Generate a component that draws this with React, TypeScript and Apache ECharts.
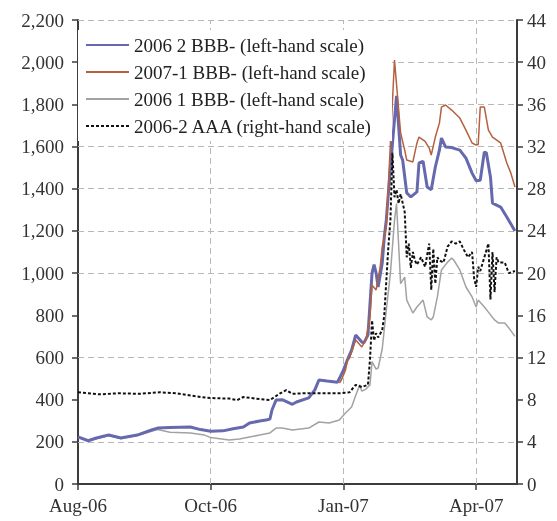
import React, { useEffect, useRef } from 'react';
import * as echarts from 'echarts';

// x values are business-day indices from the start of Aug-06 (one tick interval = 65 days)
const X_TICK_DAYS = [0, 65, 130, 195];
const X_TICK_LABELS = ['Aug-06', 'Oct-06', 'Jan-07', 'Apr-07'];
const H_GRID_VALUES = [200, 600, 1000, 1200, 1400, 1600, 1800, 2000, 2200];
const V_GRID_DAYS = [65, 130, 195];

const NAME_BLUE = '2006 2 BBB- (left-hand scale)';
const NAME_RED = '2007-1 BBB- (left-hand scale)';
const NAME_GREY = '2006 1 BBB- (left-hand scale)';
const NAME_AAA = '2006-2 AAA (right-hand scale)';

const BLUE_2006_2_BBB: [number, number][] = [
  [0, 223], [5, 205], [9, 218], [15, 232], [21, 218], [29, 232], [36, 256], [39, 265],
  [45, 268], [55, 270], [60, 258], [65, 250], [71, 252], [76, 262], [81, 270], [84, 289],
  [89, 299], [92, 303], [94, 308], [95, 351], [97, 398], [100, 400], [105, 378], [107, 389],
  [113, 408], [116, 446], [118, 493], [122, 488], [127, 482], [128, 500], [130, 540],
  [132, 590], [134, 635], [136, 706], [139, 673], [140, 669], [142, 706], [144, 1000],
  [145, 1040], [146, 1000], [147, 934], [149, 1048], [150, 1171], [151, 1252], [153, 1500],
  [156, 1840], [158, 1560], [159, 1536], [161, 1380], [163, 1361], [166, 1385], [167, 1522],
  [169, 1530], [171, 1408], [173, 1395], [175, 1503], [177, 1583], [178, 1640], [180, 1598],
  [183, 1595], [187, 1583], [190, 1545], [193, 1474], [195, 1438], [197, 1440], [199, 1574],
  [200, 1570], [202, 1456], [203, 1332], [207, 1313], [210, 1266], [214, 1200],
];

const RED_2007_1_BBB: [number, number][] = [
  [128, 479], [129, 493], [131, 540], [132, 588], [133, 597], [134, 626], [136, 683],
  [139, 650], [141, 683], [143, 792], [144, 943], [146, 920], [148, 1029], [149, 1124],
  [151, 1219], [155, 2010], [158, 1664], [160, 1583], [161, 1536], [164, 1527], [166, 1617],
  [167, 1645], [170, 1625], [172, 1593], [173, 1560], [175, 1645], [177, 1711], [178, 1787],
  [180, 1797], [183, 1773], [187, 1735], [190, 1678], [193, 1617], [195, 1607], [196, 1610],
  [197, 1787], [199, 1787], [201, 1678], [203, 1645], [207, 1617], [210, 1522], [212, 1474],
  [214, 1408],
];

const GREY_2006_1_BBB: [number, number][] = [
  [0, 220], [5, 205], [9, 215], [15, 230], [21, 216], [29, 230], [36, 250], [39, 258],
  [45, 245], [55, 242], [62, 232], [65, 220], [74, 209], [79, 213], [84, 223], [89, 232],
  [94, 242], [97, 265], [100, 265], [105, 256], [113, 265], [118, 294], [123, 289],
  [128, 303], [131, 337], [134, 365], [136, 420], [138, 470], [139, 440], [141, 450],
  [143, 470], [144, 580], [146, 545], [147, 550], [149, 640], [151, 825], [153, 1000],
  [155, 1250], [156, 1330], [158, 950], [160, 981], [161, 872], [164, 811], [166, 839],
  [169, 872], [171, 792], [173, 778], [174, 792], [176, 887], [178, 1015], [181, 1052],
  [183, 1071], [184, 1062], [187, 1015], [190, 934], [193, 887], [195, 839], [196, 872],
  [199, 839], [201, 815], [204, 778], [206, 763], [209, 763], [211, 740], [214, 700],
];

const AAA_2006_2: [number, number][] = [
  [0, 8.7], [10, 8.5], [20, 8.6], [30, 8.55], [40, 8.7], [48, 8.6], [55, 8.4], [60, 8.25],
  [65, 8.15], [74, 8.1], [78, 7.96], [81, 8.25], [87, 8.1], [94, 7.96], [99, 8.6], [102, 8.9],
  [105, 8.55], [110, 8.6], [118, 8.6], [128, 8.6], [133, 8.7], [136, 9.4], [139, 9.2],
  [142, 9.4], [143, 11.8], [144, 15.5], [145, 13.6], [146, 14.3], [147, 13.9], [149, 14.6],
  [150, 16.0], [151, 19.3], [152, 22.5], [153, 25], [154, 31.4], [155, 27.2], [156, 27.9],
  [157, 26.6], [158, 27.5], [160, 25.8], [161, 21.5], [162, 22.8], [163, 20.5], [164, 22],
  [165, 21.2], [166, 20.8], [168, 21.5], [170, 20.6], [172, 22.8], [173, 18.4], [174, 22.3],
  [175, 19.0], [176, 21.5], [177, 21.2], [179, 21], [181, 22.5], [183, 23], [185, 22.8],
  [187, 23], [189, 22.2], [191, 21.5], [193, 22], [194, 19.5], [195, 18.7], [196, 20.6],
  [197, 20.2], [199, 21.5], [201, 22.8], [202, 17.5], [203, 22], [204, 18.2], [205, 21.5],
  [206, 21], [209, 21], [211, 20], [214, 20.2],
];

const FONT = 'Liberation Serif, Times New Roman, serif';
const AXIS_COLOR = '#3c3c3c';

export default function App() {
  const ref = useRef<HTMLDivElement>(null);

  useEffect(() => {
    if (!ref.current) return;
    const chart = echarts.init(ref.current, undefined, { renderer: 'svg' });

    chart.setOption({
      animation: false,
      textStyle: { fontFamily: FONT },
      grid: { left: 78, right: 40, top: 20, bottom: 37 },
      legend: {
        data: [NAME_BLUE, NAME_RED, NAME_GREY, NAME_AAA],
        orient: 'vertical',
        left: 78,
        top: 30,
        z: 20,
        padding: [5, 19, 5, 7],
        backgroundColor: '#fff',
        itemWidth: 43,
        itemHeight: 10,
        itemGap: 7,
        itemStyle: { opacity: 0 },
        textStyle: { fontFamily: FONT, fontSize: 19, color: '#222', lineHeight: 20 },
      },
      xAxis: {
        type: 'value',
        min: 0,
        max: 215,
        interval: 65,
        axisLine: { show: true, onZero: false, lineStyle: { color: AXIS_COLOR, width: 2 } },
        axisTick: { show: true, length: 6, customValues: X_TICK_DAYS, lineStyle: { color: AXIS_COLOR, width: 1.5 } },
        axisLabel: {
          fontFamily: FONT,
          fontSize: 19,
          color: '#333',
          margin: 12,
          customValues: X_TICK_DAYS,
          formatter: (v: number) => {
            const i = X_TICK_DAYS.indexOf(v);
            return i >= 0 ? X_TICK_LABELS[i] : '';
          },
        },
        splitLine: { show: false },
      },
      yAxis: [
        {
          type: 'value',
          min: 0,
          max: 2200,
          interval: 200,
          position: 'left',
          axisLine: { show: true, lineStyle: { color: AXIS_COLOR, width: 2 } },
          axisTick: { show: true, length: 6, lineStyle: { color: AXIS_COLOR, width: 1.5 } },
          axisLabel: {
            fontFamily: FONT,
            fontSize: 19,
            color: '#333',
            margin: 14,
            formatter: (v: number) => v.toLocaleString('en-US'),
          },
          splitLine: { show: false },
        },
        {
          type: 'value',
          min: 0,
          max: 44,
          interval: 4,
          position: 'right',
          axisLine: { show: true, lineStyle: { color: AXIS_COLOR, width: 2 } },
          axisTick: { show: true, length: 6, lineStyle: { color: AXIS_COLOR, width: 1.5 } },
          axisLabel: { fontFamily: FONT, fontSize: 19, color: '#333', margin: 10 },
          splitLine: { show: false },
        },
      ],
      series: [
        {
          name: 'gridlines',
          type: 'line',
          data: [],
          z: 1,
          silent: true,
          markLine: {
            z: 1,
            silent: true,
            symbol: 'none',
            label: { show: false },
            lineStyle: { type: [6, 4], color: '#b8b8b8', width: 1 },
            data: [
              ...H_GRID_VALUES.map((v) => ({ yAxis: v })),
              ...V_GRID_DAYS.map((d) => ({ xAxis: d })),
            ],
          },
        },
        {
          name: NAME_GREY,
          type: 'line',
          data: GREY_2006_1_BBB,
          symbol: 'none',
          z: 2,
          lineStyle: { color: '#a2a2a2', width: 1.5 },
          itemStyle: { color: '#a2a2a2' },
        },
        {
          name: NAME_BLUE,
          type: 'line',
          data: BLUE_2006_2_BBB,
          symbol: 'none',
          z: 3,
          lineStyle: { color: '#6669ad', width: 3 },
          itemStyle: { color: '#6669ad' },
        },
        {
          name: NAME_RED,
          type: 'line',
          data: RED_2007_1_BBB,
          symbol: 'none',
          z: 3,
          lineStyle: { color: '#b5603e', width: 1.5 },
          itemStyle: { color: '#b5603e' },
        },
        {
          name: NAME_AAA,
          type: 'line',
          data: AAA_2006_2,
          yAxisIndex: 1,
          symbol: 'none',
          z: 4,
          lineStyle: { color: '#111', width: 2, type: [3, 2] },
          itemStyle: { color: '#111' },
        },
      ],
    });

    return () => chart.dispose();
  }, []);

  return <div ref={ref} style={{ position: 'fixed', left: 0, top: 0, width: 557, height: 521 }} />;
}
